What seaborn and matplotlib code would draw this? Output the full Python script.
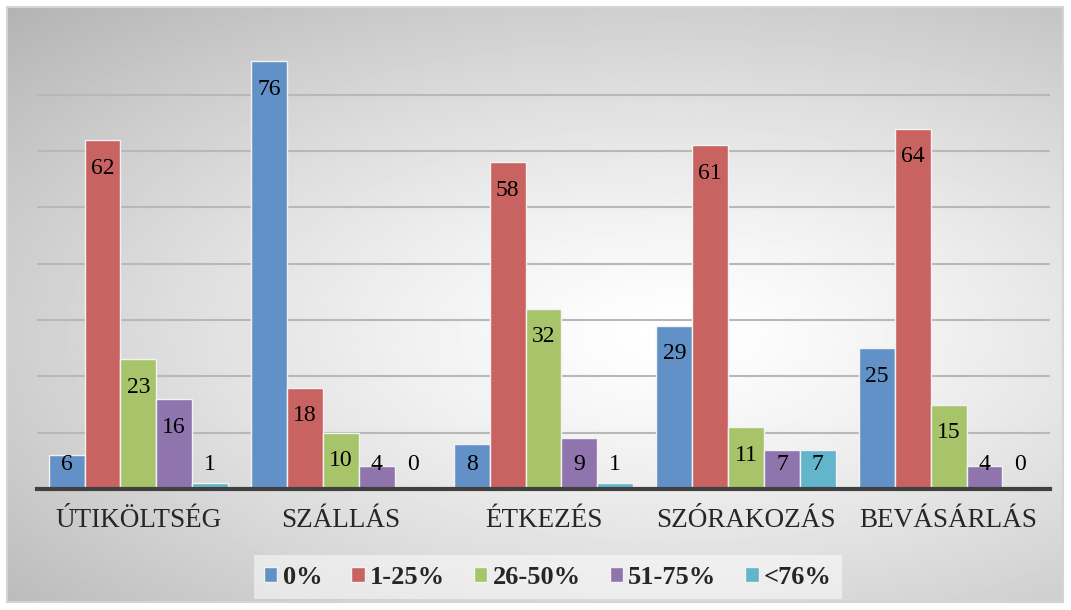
import numpy as np
import pandas as pd
import matplotlib
matplotlib.use("Agg")
import matplotlib.pyplot as plt
import seaborn as sns
from matplotlib.patches import Rectangle

# Data
categories = ["ÚTIKÖLTSÉG", "SZÁLLÁS", "ÉTKEZÉS", "SZÓRAKOZÁS", "BEVÁSÁRLÁS"]
series = ["0%", "1-25%", "26-50%", "51-75%", "<76%"]
v_0 = [6, 76, 8, 29, 25]
v_1_25 = [62, 18, 58, 61, 64]
v_26_50 = [23, 10, 32, 11, 15]
v_51_75 = [16, 4, 9, 7, 4]
v_76 = [1, 0, 1, 7, 0]

colors = ["#6291c7", "#c96361", "#a8c46b", "#8f74ad", "#62b5cb"]

rows = []
for s, vals in zip(series, [v_0, v_1_25, v_26_50, v_51_75, v_76]):
    for c, v in zip(categories, vals):
        rows.append({"cat": c, "series": s, "value": v})
df = pd.DataFrame(rows)

sns.set_style("white")
plt.rcParams["font.family"] = ["Liberation Serif", "DejaVu Serif"]

fig = plt.figure(figsize=(10.71, 6.10), dpi=100)
fig.patch.set_facecolor("white")

# background with radial gradient
bg = fig.add_axes([7 / 1071, 8 / 610, 1056 / 1071, 595 / 610], zorder=0)
yy, xx = np.mgrid[0:1:300j, 0:1:500j]
d = np.sqrt(((xx - 0.63) / 0.63) ** 2 + ((yy - 0.55) / 0.55) ** 2)
g = np.clip(1 - 0.19 * d ** 1.3, 0, 1)
bg.imshow(g, cmap="gray", vmin=0, vmax=1, aspect="auto", extent=[0, 1, 1, 0])
bg.set_axis_off()
bg.add_patch(Rectangle((0, 0), 1, 1, transform=bg.transAxes, fill=False,
                       edgecolor="#d4d4d4", linewidth=1.5, clip_on=False))

ax = fig.add_axes([37 / 1071, 1 - 489 / 610, 1013 / 1071, 450.5 / 610], zorder=1)
ax.patch.set_alpha(0)

sns.barplot(data=df, x="cat", y="value", hue="series", palette=colors,
            width=0.885, edgecolor="#f2f2f2", linewidth=1, saturation=1, ax=ax,
            zorder=3)

ax.set_ylim(0, 80)
ax.set_yticks(range(0, 81, 10))
ax.set_yticklabels([])
ax.tick_params(axis="y", length=0)
ax.tick_params(axis="x", length=0, pad=14, labelsize=19.5)
ax.grid(axis="y", color="#b8b8b8", linewidth=1.5, zorder=0)
ax.set_axisbelow(True)
for side in ["top", "right", "left"]:
    ax.spines[side].set_visible(False)
ax.spines["bottom"].set_color("#404040")
ax.spines["bottom"].set_linewidth(3)
ax.spines["bottom"].set_zorder(5)
ax.set_xlabel("")
ax.set_ylabel("")

# data labels: inside end, but not lower than near the axis
for cont in ax.containers:
    for bar in cont:
        h = bar.get_height()
        y = max(h - 5, 4.4)
        ax.text(bar.get_x() + bar.get_width() / 2, y, f"{h:.0f}",
                ha="center", va="center", fontsize=17, color="black", zorder=6)

handles, labels = ax.get_legend_handles_labels()
ax.legend(handles, labels, loc="center", bbox_to_anchor=(548 / 1071, 1 - 577 / 610),
          bbox_transform=fig.transFigure, ncol=5, frameon=True, facecolor="white",
          framealpha=0.5, edgecolor="none", fancybox=False,
          prop={"weight": "bold", "size": 19}, handlelength=0.5, handleheight=0.5,
          handletextpad=0.2, columnspacing=1.1, borderpad=0.4)

fig.savefig("out.png", dpi=100)
